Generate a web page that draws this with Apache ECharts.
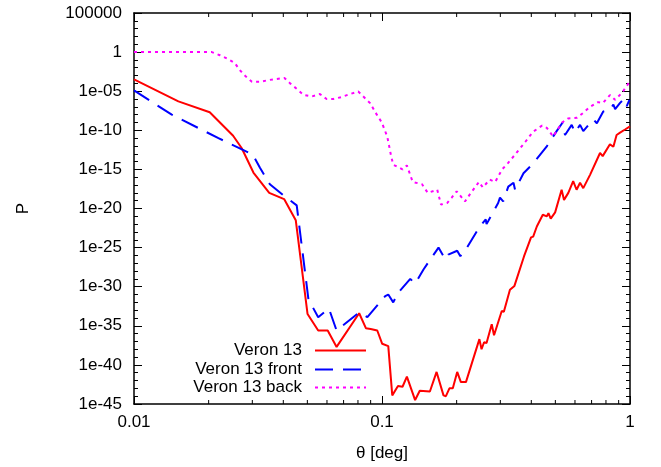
<!DOCTYPE html>
<html>
<head>
<meta charset="utf-8">
<script src="https://cdn.jsdelivr.net/npm/echarts@6/dist/echarts.min.js"></script>
<style>
  html, body { margin: 0; padding: 0; background: #fff; }
  #chart { width: 661px; height: 467px; }
</style>
</head>
<body>
<div id="chart"></div>
<script>
// values (theta in deg, P)
const veronTheta = [0.01, 0.0151, 0.0202, 0.0251, 0.0272, 0.0303, 0.0351, 0.0403, 0.0449, 0.0501, 0.0553, 0.0604, 0.0656,
  0.0809, 0.0861, 0.0900, 0.0957, 0.1002, 0.106, 0.110, 0.116, 0.121, 0.126, 0.136, 0.142, 0.156, 0.166, 0.177, 0.181,
  0.187, 0.193, 0.201, 0.208, 0.218, 0.247, 0.252, 0.258, 0.264, 0.277, 0.283, 0.304, 0.310, 0.328, 0.342, 0.374,
  0.399, 0.407, 0.421, 0.445, 0.462, 0.469, 0.479, 0.499, 0.530, 0.542, 0.564, 0.590, 0.609, 0.629, 0.648, 0.690,
  0.757, 0.776, 0.830, 0.857, 0.883, 0.912, 0.955, 1.0]
const veronP = [3.2e-4, 5e-7, 2e-8, 2e-11, 5e-13, 4e-16, 1e-18, 1.6e-19, 3.2e-22, 3.2e-34, 2.5e-36, 2.5e-36, 2e-38,
  4e-34, 5e-36, 4e-36, 2.5e-36, 5e-38, 2.5e-38, 1.26e-44, 2e-43, 1.6e-43, 3.2e-42, 3.2e-45, 5e-44, 4e-44, 1.26e-41, 1.26e-44, 1e-44,
  1e-43, 1e-43, 1.26e-41, 6.3e-43, 6.3e-43, 2e-37, 1e-38, 7.9e-38, 6.3e-38, 1.6e-35, 6.3e-37, 7.9e-34, 6.3e-34, 4e-31, 1.26e-30, 7.9e-27,
  2e-24, 2.5e-24, 5e-23, 1.6e-21, 1e-21, 2.5e-21, 5e-22, 3.2e-21, 2.5e-18, 1.26e-19, 1e-18, 3.2e-17, 2.5e-18, 2e-17, 4e-18, 2e-16,
  1.26e-13, 5e-14, 1.6e-12, 7.9e-13, 2.5e-11, 5e-11, 1.26e-10, 3.2e-10]

const frontTheta = [0.01, 0.0142, 0.0219, 0.0267, 0.0301, 0.0322, 0.0353, 0.0400, 0.0453, 0.0505, 0.0553, 0.0611, 0.0656,
  0.0809, 0.0873, 0.103, 0.106, 0.111, 0.116, 0.130, 0.136, 0.147, 0.169, 0.180, 0.185, 0.201, 0.207, 0.218, 0.248,
  0.262, 0.264, 0.294, 0.299, 0.308, 0.323, 0.339, 0.344, 0.372, 0.408, 0.461, 0.506, 0.535, 0.547, 0.582, 0.600,
  0.629, 0.648, 0.712, 0.735, 0.780, 0.830, 0.857, 0.871, 0.912, 0.946, 0.970, 0.995]
const frontP = [1.26e-5, 1e-8, 1e-11, 5e-13, 7.9e-14, 1.6e-15, 1.26e-17, 5e-19, 2.5e-20, 2.5e-32, 1.26e-34, 1.6e-33, 2.5e-36,
  5e-34, 1.26e-34, 6.3e-32, 1e-31, 1e-32, 1.6e-31, 1e-29, 2.5e-30, 1.6e-28, 1e-25, 3.2e-27, 1.26e-26, 4e-26, 7.9e-27, 6.3e-26, 5e-23,
  4e-22, 1e-22, 5e-20, 2.5e-19, 7.9e-20, 6.3e-18, 2e-17, 2.5e-18, 3.2e-16, 6.3e-15, 7.9e-13, 7.9e-11, 1e-9, 2.5e-11, 5e-10, 5e-11,
  5e-10, 7.9e-11, 2.5e-9, 7.9e-10, 2.5e-8, 4e-8, 2e-7, 5e-8, 3.2e-7, 1e-6, 1.26e-7, 7.9e-7]

const backTheta = [0.01, 0.0206, 0.0222, 0.0240, 0.0255, 0.0267, 0.0281, 0.0299, 0.0322, 0.0353, 0.0404, 0.0426, 0.0453,
  0.0482, 0.0521, 0.0562, 0.0598, 0.0637, 0.0687, 0.0743, 0.0802, 0.0841, 0.0895, 0.0953, 0.0998, 0.105, 0.109, 0.111,
  0.121, 0.126, 0.133, 0.145, 0.153, 0.167, 0.173, 0.183, 0.191, 0.200, 0.216, 0.226, 0.246, 0.255, 0.272, 0.286,
  0.305, 0.322, 0.344, 0.378, 0.406, 0.442, 0.462, 0.490, 0.532, 0.562, 0.611, 0.646, 0.690, 0.743, 0.778, 0.830,
  0.871, 0.929, 0.991]
const backP = [1, 1, 0.4, 0.126, 0.04, 5e-3, 9e-4, 1.6e-4, 1.6e-4, 2.8e-4, 5e-4, 1e-4, 2e-5,
  3.5e-6, 2.1e-6, 4.3e-6, 1e-6, 1e-6, 1.8e-6, 4.3e-6, 9e-6, 2.1e-6, 3e-7, 1e-8, 1e-9, 1.6e-11, 4e-14, 4e-15,
  1e-15, 3.2e-15, 2.5e-17, 1.26e-17, 1e-18, 2.5e-18, 3.2e-20, 5e-20, 2.5e-19, 1.6e-18, 7.9e-20, 6.3e-19, 2.5e-17, 5e-18, 5e-17, 2.5e-17,
  1e-15, 6.3e-15, 7.9e-14, 3.2e-12, 6.3e-11, 4e-10, 2e-10, 1.6e-11, 1e-9, 3.2e-9, 4e-9, 1.6e-8, 1e-7, 4e-7, 3.2e-7, 3.2e-6,
  7.9e-7, 6.3e-6, 1.26e-4]

// minor ticks of the theta axis
const xMinorTicks = [0.02, 0.03, 0.04, 0.05, 0.06, 0.07, 0.08, 0.09, 0.2, 0.3, 0.4, 0.5, 0.6, 0.7, 0.8, 0.9]

// echarts' log axis rounds an extent of 1e-45 to 0, so P is plotted
// times 1e45 and the labels take the shift back off
const P_SHIFT = 45
const P_SCALE = 1e45
const X_MIN = 0.01, X_MAX = 1
const Y_MIN = 1e-45 * P_SCALE, Y_MAX = 1e5 * P_SCALE
const FONT = 'Liberation Sans, Arial, sans-serif'

function pairs(xs, ys) {
  return xs.map((x, i) => [x, ys[i] * P_SCALE])
}

function yLabel(v) {
  const e = Math.round(Math.log10(v)) - P_SHIFT
  if (e >= 0) return String(Math.pow(10, e))
  return '1e-' + String(-e).padStart(2, '0')
}

function xLabel(v) {
  return String(+v.toPrecision(1))
}

function makeYAxis(position, interval, withLabels, tickLen) {
  return {
    type: 'log',
    logBase: 10,
    position: position,
    min: Y_MIN,
    max: Y_MAX,
    interval: interval,
    name: withLabels ? 'P' : '',
    nameLocation: 'middle',
    nameGap: 102,
    nameTextStyle: { fontFamily: FONT, fontSize: 17, color: '#000' },
    axisLine: { show: interval === 5, lineStyle: { color: '#000', width: 1.5 } },
    axisTick: { show: true, inside: true, length: tickLen, lineStyle: { color: '#000', width: 1 } },
    axisLabel: {
      show: withLabels, formatter: yLabel, margin: 12,
      fontFamily: FONT, fontSize: 17, color: '#000'
    },
    splitLine: { show: false }
  }
}

function makeXAxis(position, withLabels) {
  return {
    type: 'log',
    logBase: 10,
    position: position,
    min: X_MIN,
    max: X_MAX,
    interval: 1,
    name: withLabels ? 'θ [deg]' : '',
    nameLocation: 'middle',
    nameGap: 41,
    nameTextStyle: { fontFamily: FONT, fontSize: 17, color: '#000' },
    axisLine: { show: true, lineStyle: { color: '#000', width: 1.5 } },
    axisTick: { show: true, inside: true, length: 8, lineStyle: { color: '#000', width: 1 } },
    axisLabel: {
      show: withLabels, formatter: xLabel, margin: 10,
      fontFamily: FONT, fontSize: 17, color: '#000'
    },
    splitLine: { show: false }
  }
}

function makeLegend(name, top) {
  return {
    data: [name],
    orient: 'vertical',
    right: 294,
    top: top,
    align: 'right',
    padding: 0,
    itemWidth: 51,
    itemHeight: 14,
    itemStyle: { opacity: 0 },
    textStyle: { fontFamily: FONT, fontSize: 17, color: '#000', padding: [0, 8, 0, 0] }
  }
}

const chart = echarts.init(document.getElementById('chart'))

chart.setOption({
  animation: false,
  backgroundColor: '#fff',
  grid: { left: 134, right: 31, top: 13, bottom: 62, containLabel: false },
  xAxis: [makeXAxis('bottom', true), makeXAxis('top', false)],
  yAxis: [
    makeYAxis('left', 5, true, 8),
    makeYAxis('left', 1, false, 4),
    makeYAxis('right', 5, false, 8),
    makeYAxis('right', 1, false, 4)
  ],
  legend: [
    makeLegend('Veron 13', 342),
    makeLegend('Veron 13 front', 361),
    makeLegend('Veron 13 back', 379)
  ],
  series: [
    {
      name: 'Veron 13',
      type: 'line',
      data: pairs(veronTheta, veronP),
      symbol: 'none',
      lineStyle: { color: '#ff0000', width: 2 },
      itemStyle: { color: '#ff0000' }
    },
    {
      name: 'Veron 13 front',
      type: 'line',
      data: pairs(frontTheta, frontP),
      symbol: 'none',
      lineStyle: { color: '#0000ff', width: 2, type: [18, 10] },
      itemStyle: { color: '#0000ff' }
    },
    {
      name: 'Veron 13 back',
      type: 'line',
      data: pairs(backTheta, backP),
      symbol: 'none',
      lineStyle: { color: '#ff00ff', width: 2, type: [3, 4] },
      itemStyle: { color: '#ff00ff' }
    },
    {
      name: 'minorTicks',
      type: 'custom',
      silent: true,
      data: xMinorTicks.map(t => [t, Y_MIN]),
      renderItem: function (params, api) {
        const bottom = api.coord([api.value(0), Y_MIN])
        const top = api.coord([api.value(0), Y_MAX])
        const style = { stroke: '#000', lineWidth: 1 }
        return {
          type: 'group',
          children: [
            { type: 'line', shape: { x1: bottom[0], y1: bottom[1], x2: bottom[0], y2: bottom[1] - 4 }, style: style },
            { type: 'line', shape: { x1: top[0], y1: top[1], x2: top[0], y2: top[1] + 4 }, style: style }
          ]
        }
      }
    }
  ]
})
</script>
</body>
</html>
